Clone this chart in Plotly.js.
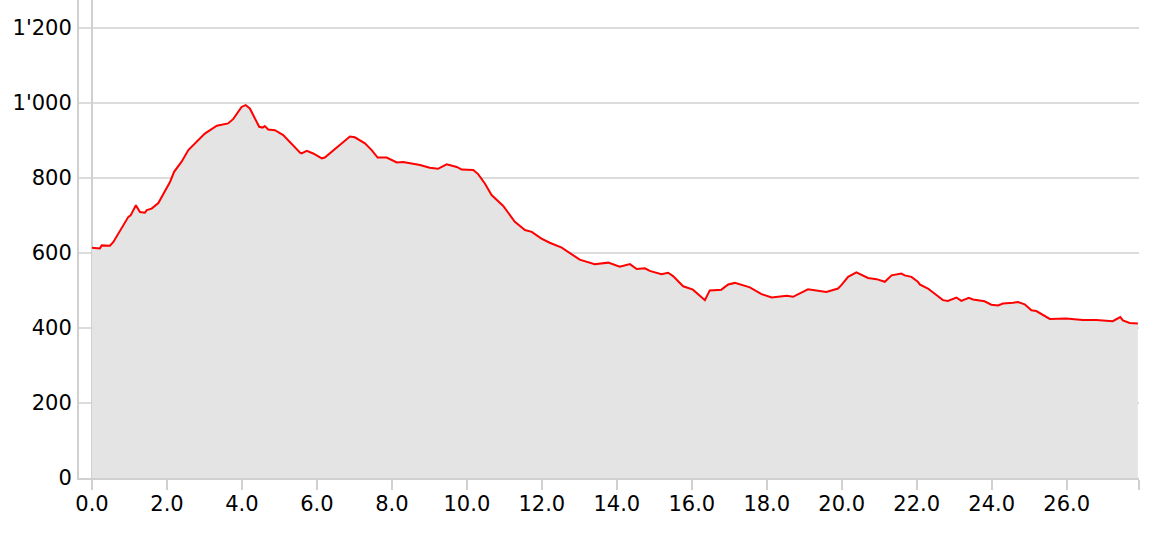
<!DOCTYPE html>
<html>
<head>
<meta charset="utf-8">
<script src="https://cdn.plot.ly/plotly-3.0.1.min.js"></script>
<style>
html,body{margin:0;padding:0;background:#fff;}
#chart{width:1168px;height:534px;}
</style>
</head>
<body>
<div id="chart"></div>
<script>
// distance (km)
var distance = [0.00,0.21,0.26,0.48,0.57,0.97,1.03,1.17,1.28,1.41,1.46,1.59,1.77,1.95,2.08,2.19,2.39,2.57,2.75,3.01,
3.33,3.63,3.77,3.99,4.10,4.21,4.46,4.55,4.61,4.70,4.88,5.10,5.55,5.59,5.73,5.90,6.13,6.21,6.88,7.01,
7.28,7.46,7.62,7.86,8.13,8.30,8.75,9.01,9.23,9.46,9.73,9.86,10.17,10.30,10.48,10.66,10.97,11.28,11.55,11.73,
11.99,12.21,12.53,12.79,13.01,13.41,13.77,14.08,14.35,14.53,14.75,14.88,15.19,15.37,15.50,15.77,16.03,16.35,16.48,16.79,
16.97,17.15,17.55,17.86,18.13,18.53,18.70,19.10,19.59,19.90,19.99,20.17,20.39,20.70,20.93,21.15,21.33,21.59,21.68,21.86,
22.03,22.08,22.30,22.70,22.83,23.06,23.19,23.39,23.50,23.81,23.99,24.17,24.30,24.57,24.70,24.88,25.06,25.19,25.55,25.99,
26.43,26.79,27.23,27.43,27.50,27.68,27.90];
// elevation (m)
var elevation = [614,612,620,619,629,696,700,727,709,707,714,718,733,767,789,816,843,874,892,918,
939,945,957,989,994,985,936,934,938,929,927,914,867,865,872,865,852,854,910,908,
892,874,854,854,841,842,834,827,824,836,829,822,821,810,785,754,725,683,661,656,
638,627,614,597,582,570,574,563,570,557,559,552,543,547,538,511,502,474,500,502,
516,520,508,490,481,486,483,503,496,505,514,536,548,533,530,523,540,545,540,536,
523,516,505,474,472,481,472,480,476,471,462,460,465,467,469,463,447,445,424,425,
421,421,418,429,420,413,412];
var xTickVals = [0,2,4,6,8,10,12,14,16,18,20,22,24,26,27.92];
var xTickText = ["0.0","2.0","4.0","6.0","8.0","10.0","12.0","14.0","16.0","18.0","20.0","22.0","24.0","26.0",""];
var yTickVals = [0,200,400,600,800,1000,1200];

var trace = {
  x: distance, y: elevation, type: 'scatter', mode: 'lines',
  fill: 'tozeroy', fillcolor: '#e4e4e4',
  line: {color: '#ff0000', width: 2},
  hoverinfo: 'skip'
};
var layout = {
  width: 1168, height: 534,
  margin: {l: 79, r: 29, t: 0, b: 56},
  paper_bgcolor: '#ffffff', plot_bgcolor: '#ffffff',
  separators: ".'",
  showlegend: false,
  font: {family: 'DejaVu Sans, sans-serif', size: 21, color: '#000'},
  xaxis: {
    range: [-0.347, 27.93],
    tickmode: 'array', tickvals: xTickVals, ticktext: xTickText,
    showgrid: false,
    zeroline: true, zerolinecolor: '#d0d0d0', zerolinewidth: 2,
    showline: true, linecolor: '#d0d0d0', linewidth: 2,
    ticks: 'outside', ticklen: 10, tickwidth: 2, tickcolor: '#d0d0d0',
    ticklabelstandoff: -4,
    tickfont: {size: 21, color: '#000'}
  },
  yaxis: {
    range: [0, 1274],
    tickmode: 'array', tickvals: yTickVals,
    separatethousands: true,
    showgrid: true, gridcolor: '#dcdcdc', gridwidth: 2,
    zeroline: false,
    showline: true, linecolor: '#d0d0d0', linewidth: 2,
    ticks: '', ticklabelstandoff: 1,
    tickfont: {size: 21, color: '#000'}
  }
};
Plotly.newPlot('chart', [trace], layout, {displayModeBar: false, staticPlot: true});
</script>
</body>
</html>
